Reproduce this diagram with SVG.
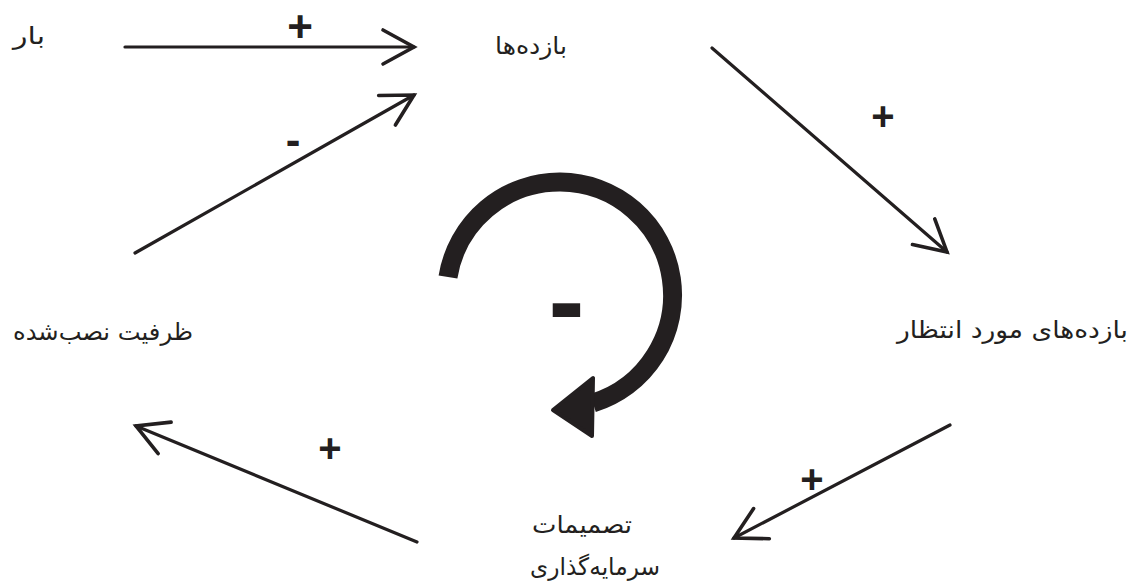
<svg xmlns="http://www.w3.org/2000/svg" width="1133" height="581" viewBox="0 0 1133 581">
<defs>
<style>
.lbl{font-family:"DejaVu Sans","Noto Sans",sans-serif;font-size:24px;fill:#231f20;text-anchor:end}
.sgn{font-family:"Liberation Sans",Arial,sans-serif;font-weight:bold;fill:#231f20;text-anchor:middle}
.ln{stroke:#231f20;stroke-width:3.2;fill:none;stroke-linecap:round;marker-end:url(#ah)}
</style>
<marker id="ah" markerUnits="userSpaceOnUse" orient="auto" markerWidth="50" markerHeight="50" refX="0" refY="0" viewBox="-40 -25 50 50" overflow="visible">
<path d="M-31,-17 L0,0 L-31,17" fill="none" stroke="#231f20" stroke-width="3.6" stroke-linecap="round" stroke-linejoin="miter"/>
</marker>
</defs>
<rect width="1133" height="581" fill="#ffffff"/>
<g id="connectors">
<line class="ln" x1="125" y1="47" x2="414" y2="47"/>
<line class="ln" x1="135" y1="253" x2="414" y2="95"/>
<line class="ln" x1="712" y1="48" x2="947" y2="252"/>
<line class="ln" x1="950" y1="425" x2="734" y2="538"/>
<line class="ln" x1="417" y1="542" x2="136" y2="426"/>
<text class="sgn" x="300" y="42" font-size="44">+</text>
<text class="sgn" x="293" y="155" font-size="44">-</text>
<text class="sgn" x="883" y="130" font-size="40">+</text>
<text class="sgn" x="812" y="493" font-size="40">+</text>
<text class="sgn" x="330" y="462" font-size="40">+</text>
</g>
<g id="loop">
<path d="M448,277 A113,113 0 1 1 593,403" fill="none" stroke="#231f20" stroke-width="19"/>
<polygon points="553,410 593,378 592,436" fill="#231f20" stroke="#231f20" stroke-width="4" stroke-linejoin="round"/>
<text class="sgn" x="0" y="0" font-size="100" transform="translate(566.5,340) scale(1.08,1.15)">-</text>
</g>
<g id="node-bar"><text class="lbl" x="45" y="44" textLength="32" lengthAdjust="spacingAndGlyphs">بار</text></g>
<g id="node-bazdeha"><text class="lbl" x="567" y="54" textLength="72" lengthAdjust="spacingAndGlyphs">بازده‌ها</text></g>
<g id="node-zarfiat"><text class="lbl" x="193" y="340" textLength="180" lengthAdjust="spacingAndGlyphs">ظرفیت نصب‌شده</text></g>
<g id="node-expected"><text class="lbl" x="1128" y="338" textLength="231" lengthAdjust="spacingAndGlyphs">بازده‌های مورد انتظار</text></g>
<g id="node-tasmimat">
<text class="lbl" x="632" y="533" textLength="100" lengthAdjust="spacingAndGlyphs">تصمیمات</text>
<text class="lbl" x="660" y="575" textLength="130" lengthAdjust="spacingAndGlyphs">سرمایه‌گذاری</text>
</g>
</svg>
